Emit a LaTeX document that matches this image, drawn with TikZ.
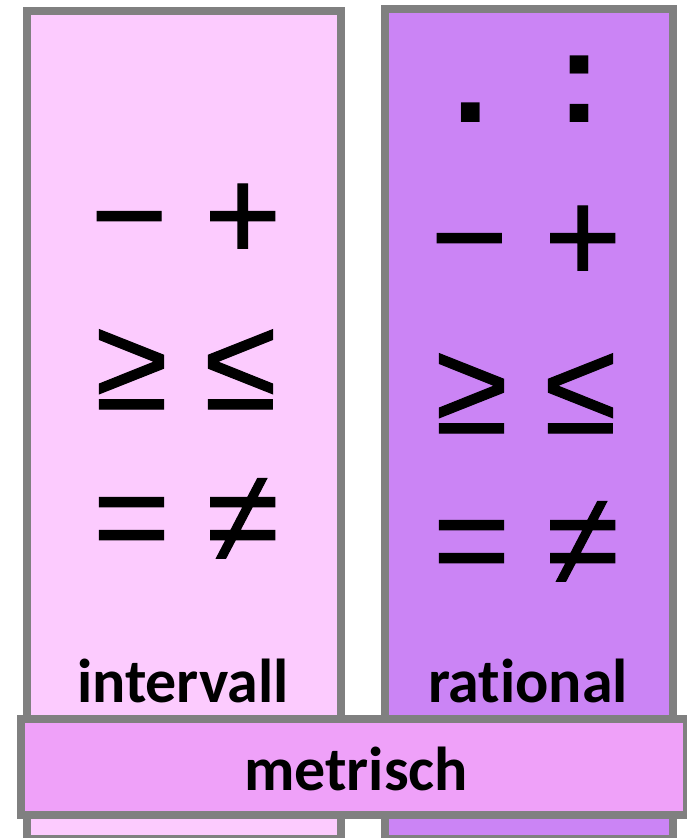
\documentclass[tikz,border=0pt]{standalone}
\usepackage{fontspec}
\setmainfont{Carlito}[RawFeature=-liga]
\newfontfamily\symfont{Liberation Sans}[FakeBold=0.8]
\newfontfamily\dotfont{Liberation Sans Bold}
\definecolor{lpink}{HTML}{FCCBFE}
\definecolor{lviolet}{HTML}{CB84F5}
\definecolor{mpink}{HTML}{EFA1F9}
\definecolor{bgray}{HTML}{808080}
\tikzset{
  panel/.style={draw=bgray, line width=8pt},
  label/.style={font=\fontsize{62}{62}\selectfont\bfseries, inner sep=0pt, anchor=base},
  sym/.style={font=\symfont\fontsize{132}{132}\selectfont, inner sep=0pt, anchor=base},
}
\begin{document}
\begin{tikzpicture}[x=1pt,y=-1pt]
\useasboundingbox (0,0) rectangle (687,838);
\begin{scope}
\clip (0,0) rectangle (687,838);
\draw[panel, fill=lpink] (27,11) rectangle (341,839);
\draw[panel, fill=lviolet] (385,9) rectangle (673,839);
\draw[panel, fill=mpink] (21,719) rectangle (687,815);
\end{scope}
\node[sym] (l1) at (186,260) {− +};
\node[sym] (l2) at (186,409) {≥ ≤};
\node[sym] (l3) at (186,562) {= ≠};
\node[sym, font=\dotfont\fontsize{132}{132}\selectfont] (r0) at (527,122) {.\hspace{68pt}:};
\node[sym] (r1) at (526,282) {− +};
\node[sym] (r2) at (526,433) {≥ ≤};
\node[sym] (r3) at (526,585) {= ≠};
\node[label] (iv) at (183,702) {intervall};
\node[label] (ra) at (528,702) {rational};
\node[label] (me) at (356,790) {metrisch};
\end{tikzpicture}
\end{document}
